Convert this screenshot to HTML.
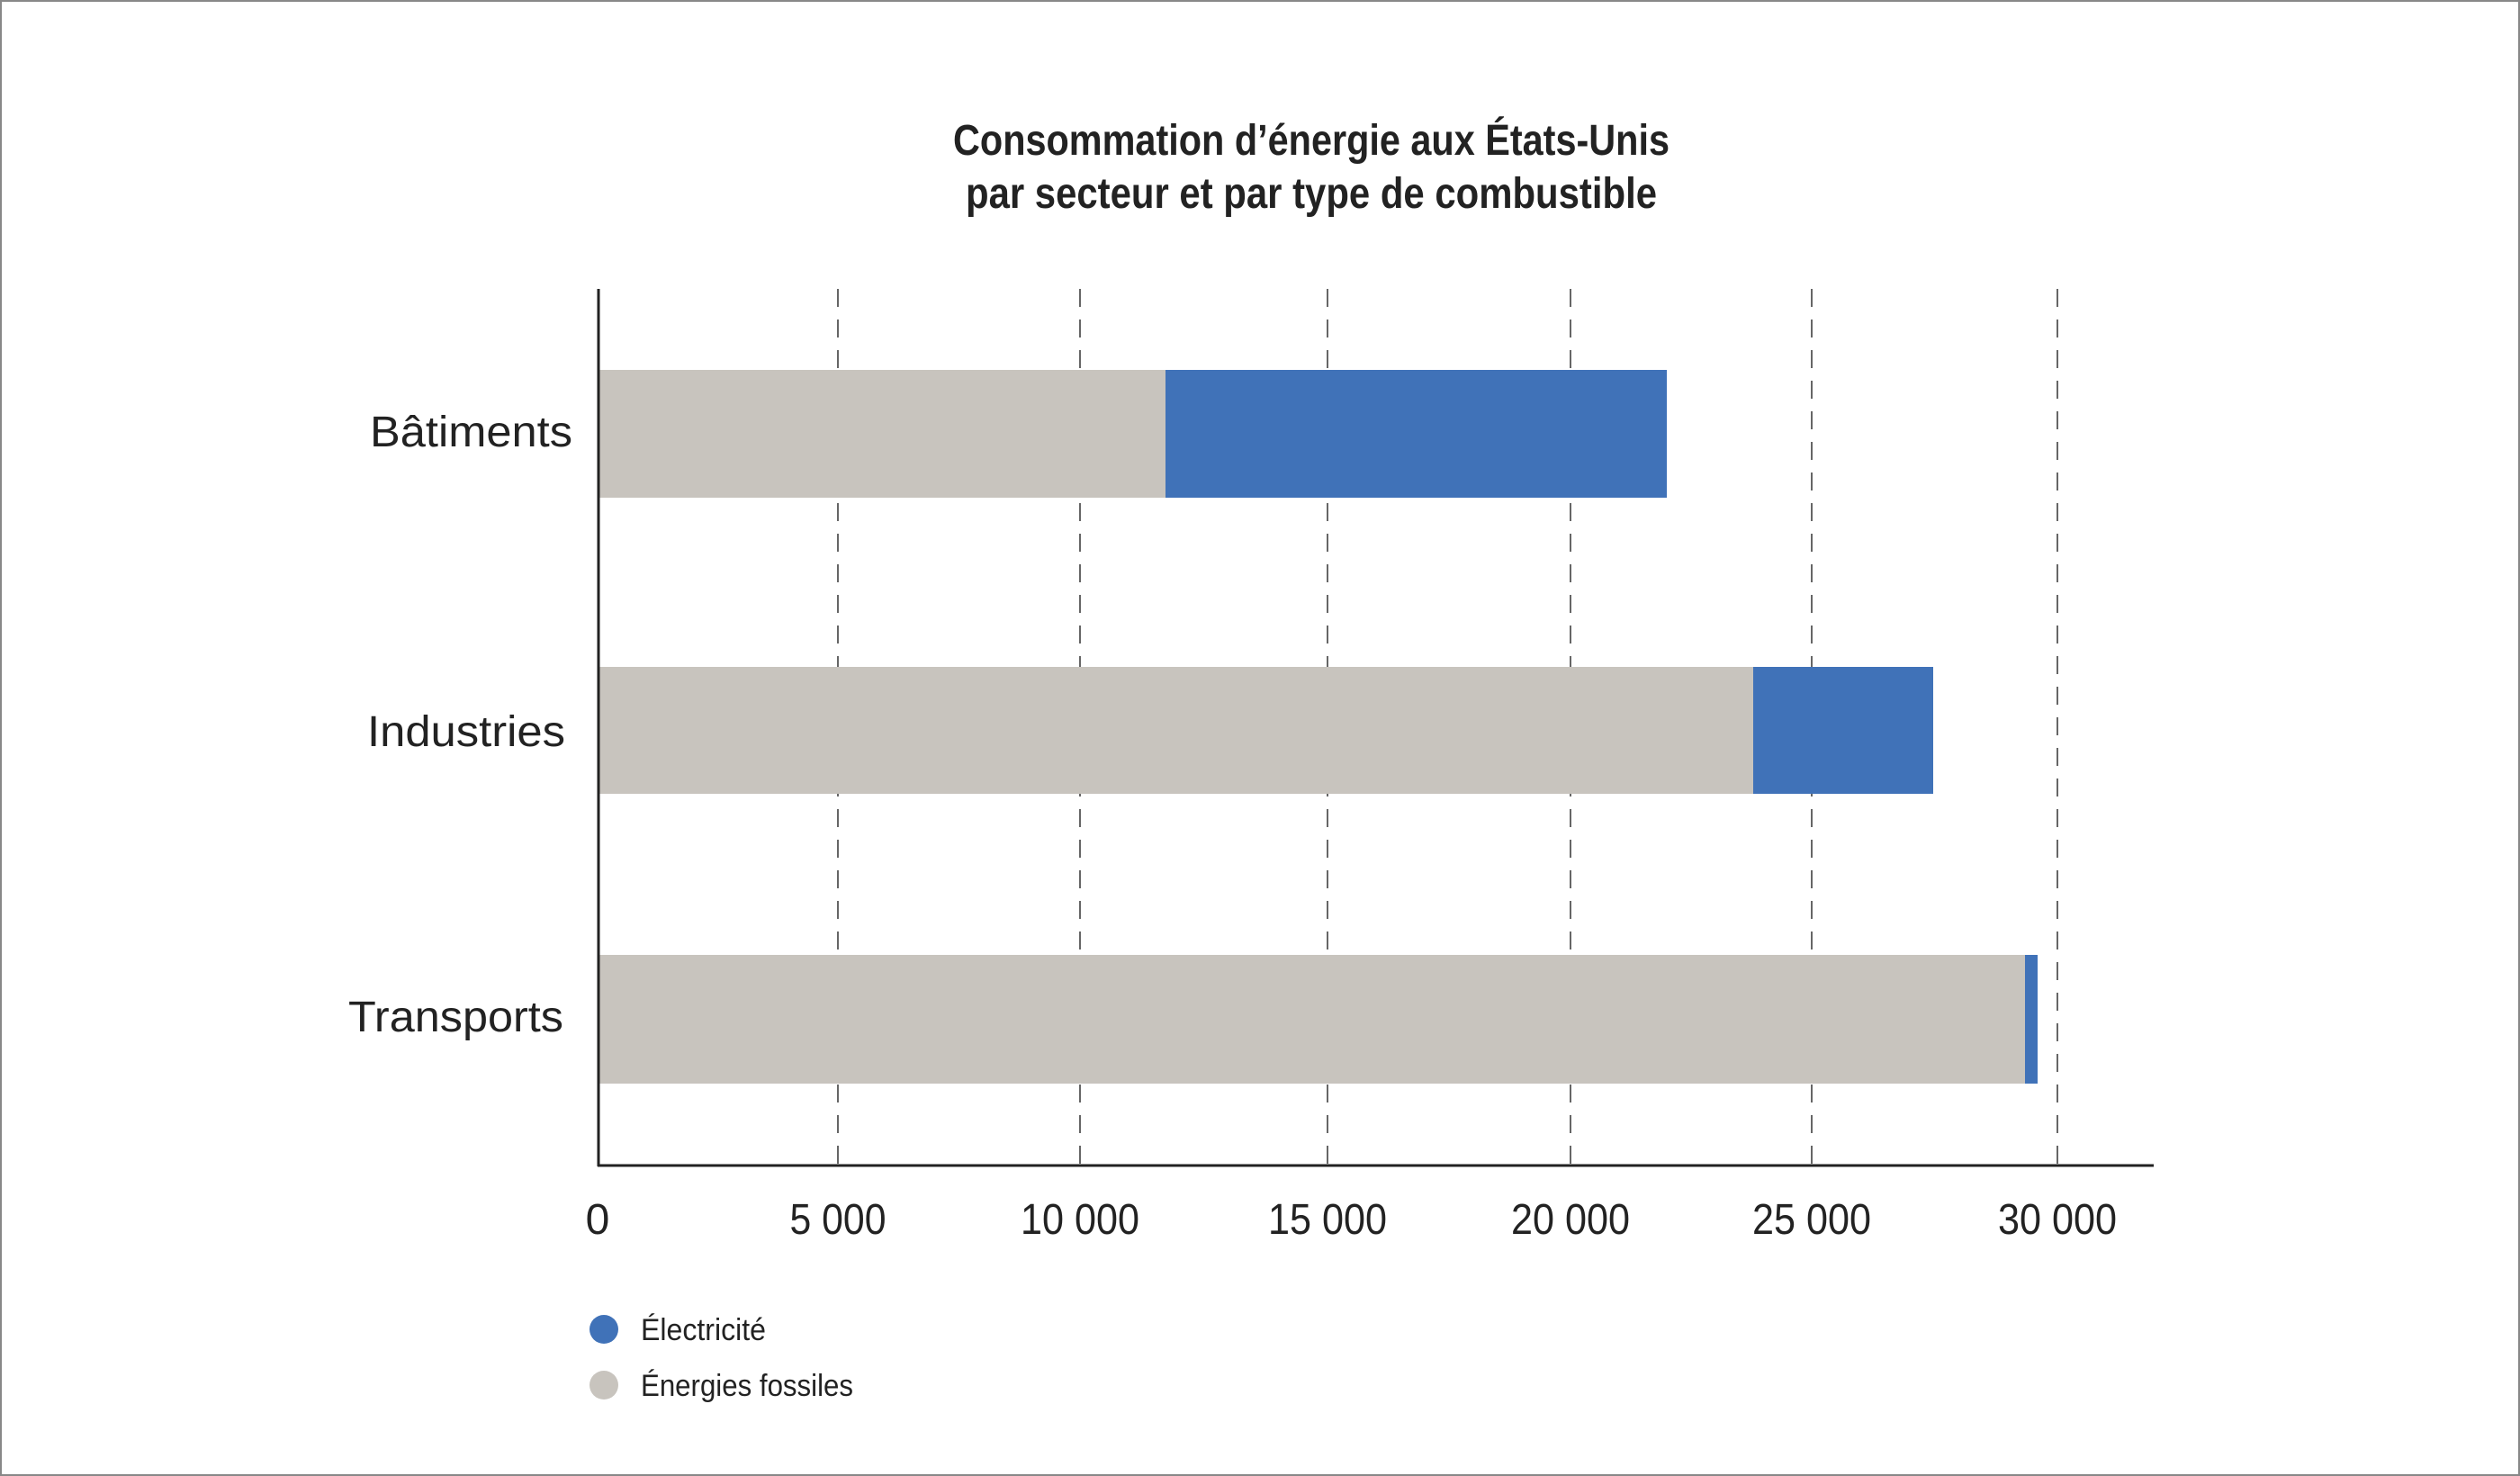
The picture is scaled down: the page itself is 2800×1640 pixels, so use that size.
<!DOCTYPE html>
<html><head><meta charset="utf-8"><style>
html,body{margin:0;padding:0;background:#fff}
svg{display:block}
</style></head><body>
<svg width="2800" height="1640" viewBox="0 0 2800 1640" xmlns="http://www.w3.org/2000/svg" font-family="Liberation Sans, sans-serif">
<rect x="1" y="1" width="2798" height="1638" fill="#fff" stroke="#888" stroke-width="2"/>
<g fill="#222" font-weight="bold" font-size="48" text-anchor="middle">
<text x="1457" y="172" textLength="796" lengthAdjust="spacingAndGlyphs">Consommation d’énergie aux États-Unis</text>
<text x="1457" y="231" textLength="768" lengthAdjust="spacingAndGlyphs">par secteur et par type de combustible</text>
</g>
<g stroke="#666" stroke-width="2" stroke-dasharray="20,14">
<line x1="931" y1="321" x2="931" y2="1295"/>
<line x1="1200" y1="321" x2="1200" y2="1295"/>
<line x1="1475" y1="321" x2="1475" y2="1295"/>
<line x1="1745" y1="321" x2="1745" y2="1295"/>
<line x1="2013" y1="321" x2="2013" y2="1295"/>
<line x1="2286" y1="321" x2="2286" y2="1295"/>
</g>
<rect x="664" y="411" width="631" height="142" fill="#c8c4be"/>
<rect x="1295" y="411" width="557" height="142" fill="#4072b8"/>
<rect x="664" y="741" width="1284" height="141" fill="#c8c4be"/>
<rect x="1948" y="741" width="200" height="141" fill="#4072b8"/>
<rect x="664" y="1061" width="1586" height="143" fill="#c8c4be"/>
<rect x="2250" y="1061" width="14" height="143" fill="#4072b8"/>
<line x1="665" y1="321" x2="665" y2="1296" stroke="#222" stroke-width="3"/>
<line x1="664" y1="1295" x2="2393" y2="1295" stroke="#222" stroke-width="3"/>
<g fill="#222" font-size="48" text-anchor="end">
<text x="636" y="496" textLength="225" lengthAdjust="spacingAndGlyphs">Bâtiments</text>
<text x="628" y="829" textLength="220" lengthAdjust="spacingAndGlyphs">Industries</text>
<text x="626" y="1146" textLength="239" lengthAdjust="spacingAndGlyphs">Transports</text>
</g>
<g fill="#222" font-size="48" text-anchor="middle">
<text x="664" y="1371">0</text>
<text x="931" y="1371" textLength="107" lengthAdjust="spacingAndGlyphs">5 000</text>
<text x="1200" y="1371" textLength="132" lengthAdjust="spacingAndGlyphs">10 000</text>
<text x="1475" y="1371" textLength="132" lengthAdjust="spacingAndGlyphs">15 000</text>
<text x="1745" y="1371" textLength="132" lengthAdjust="spacingAndGlyphs">20 000</text>
<text x="2013" y="1371" textLength="132" lengthAdjust="spacingAndGlyphs">25 000</text>
<text x="2286" y="1371" textLength="132" lengthAdjust="spacingAndGlyphs">30 000</text>
</g>
<circle cx="671" cy="1477" r="16" fill="#4072b8"/>
<circle cx="671" cy="1539" r="16" fill="#c8c4be"/>
<g fill="#222" font-size="34">
<text x="712" y="1489" textLength="139" lengthAdjust="spacingAndGlyphs">Électricité</text>
<text x="712" y="1551" textLength="236" lengthAdjust="spacingAndGlyphs">Énergies fossiles</text>
</g>
</svg>
</body></html>
